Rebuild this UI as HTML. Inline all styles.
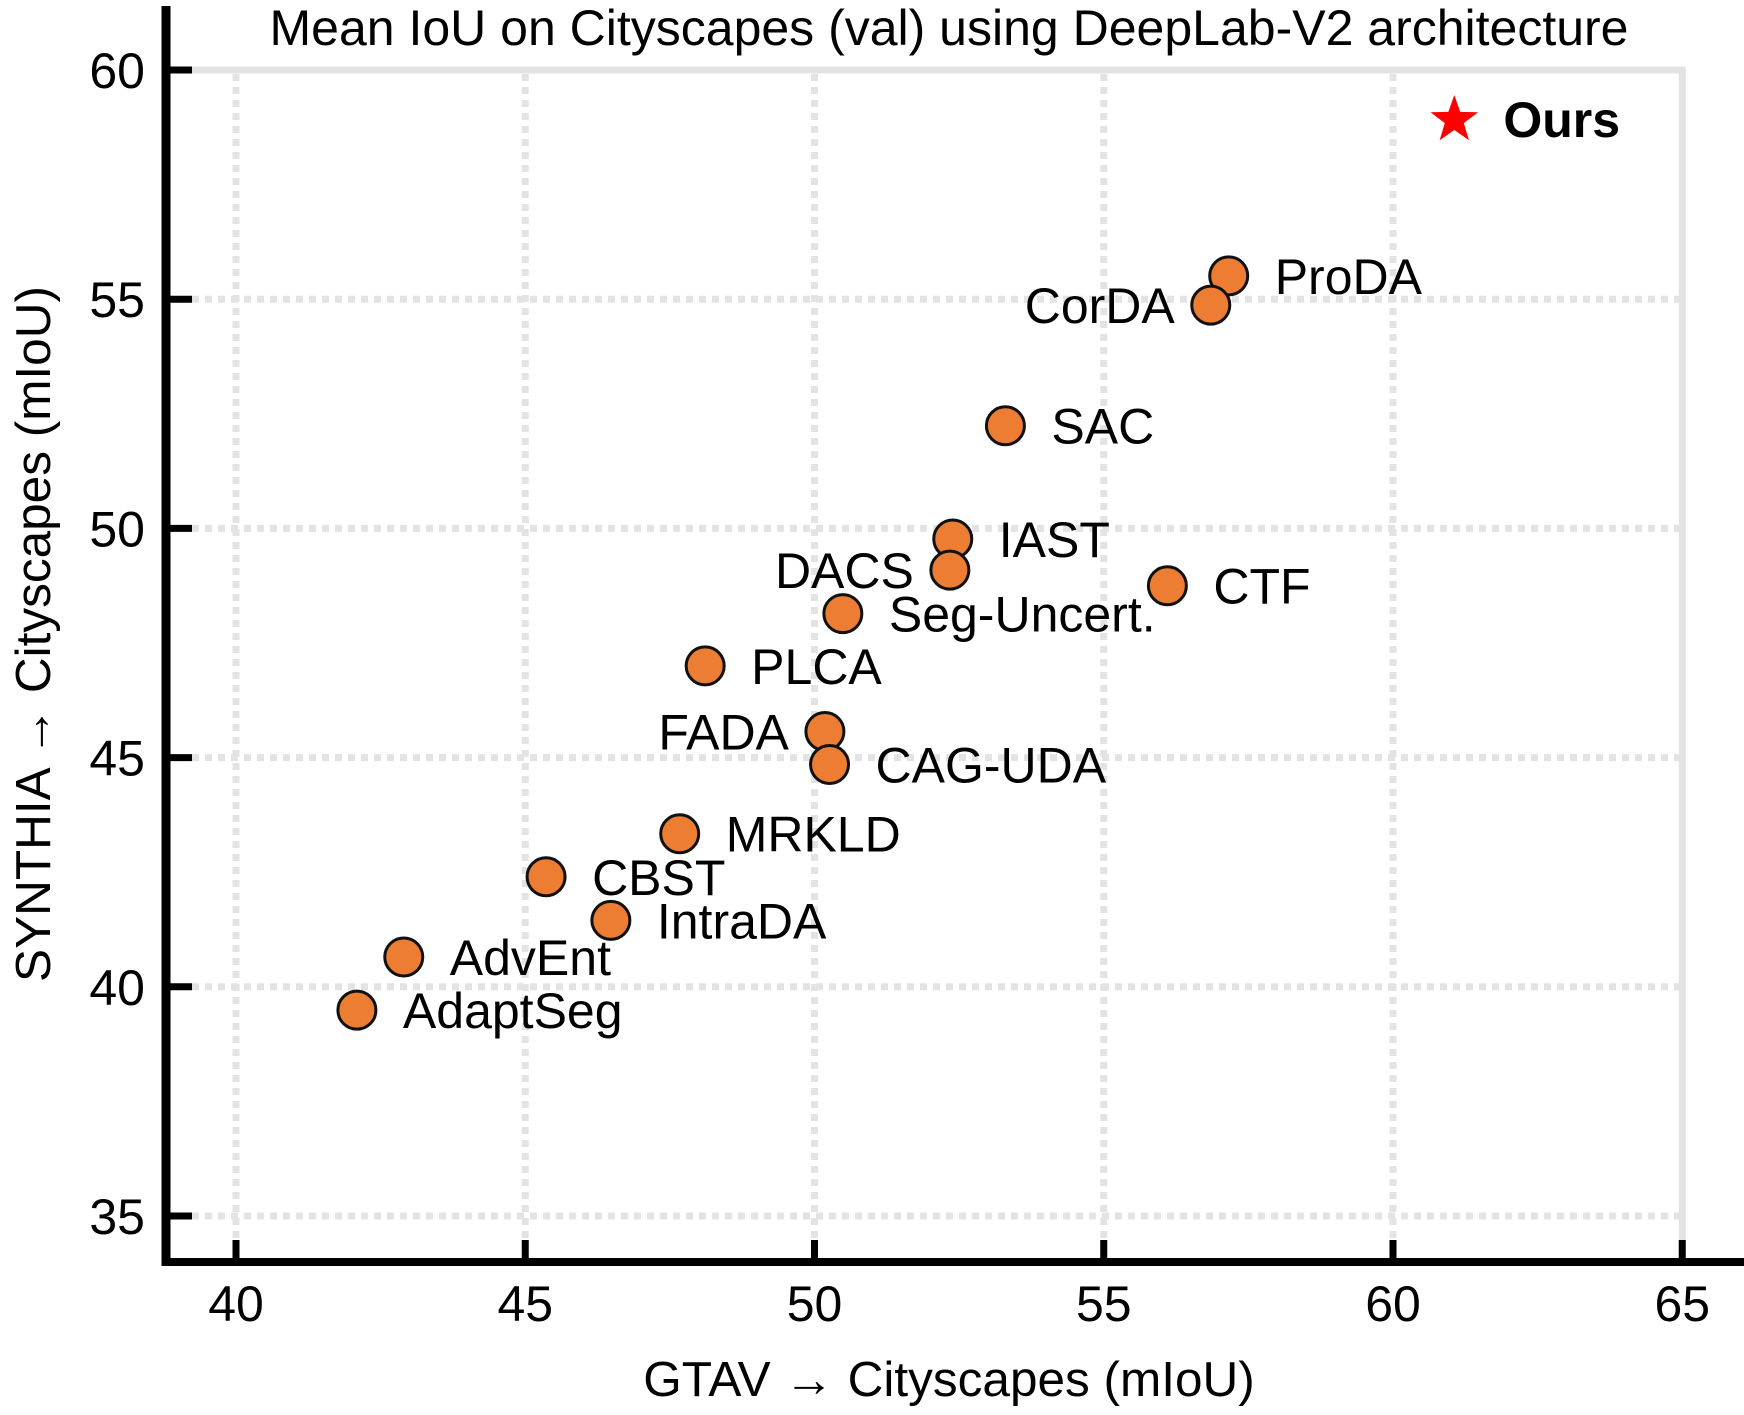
<!DOCTYPE html>
<html><head><meta charset="utf-8"><style>
html,body{margin:0;padding:0;background:#fff;}
svg{display:block;font-family:"Liberation Sans",Arial,sans-serif;}
</style></head><body>
<svg id="chart" width="1744" height="1415" viewBox="0 0 1744 1415" xmlns="http://www.w3.org/2000/svg"></svg>
<script>
const methods = ["ProDA","CorDA","SAC","IAST","DACS","CTF","Seg-Uncert.","PLCA","FADA","CAG-UDA","MRKLD","CBST","IntraDA","AdvEnt","AdaptSeg"];
const gtavScores = [57.16,56.85,53.30,52.39,52.34,56.10,50.49,48.11,50.18,50.26,47.67,45.36,46.48,42.90,42.09];
const synthiaScores = [55.51,54.87,52.24,49.77,49.09,48.75,48.14,47.00,45.57,44.85,43.34,42.40,41.45,40.65,39.49];
const labelSide = ["r","l","r","r","l","r","r","r","l","r","r","r","r","r","r"];
const oursGtav = 61.06;
const oursSynthia = 58.91;
const xTicks = [40,45,50,55,60,65];
const yTicks = [35,40,45,50,55,60];

const NS = "http://www.w3.org/2000/svg";
const svg = document.getElementById("chart");
function xs(v){ return 236 + (v-40)*57.85; }
function ys(v){ return 1216 - (v-35)*45.84; }
function mk(tag, attrs, parent){
  const e = document.createElementNS(NS, tag);
  for (const k in attrs) e.setAttribute(k, attrs[k]);
  (parent||svg).appendChild(e);
  return e;
}
const grid = mk("g",{});


xTicks.forEach(t=>{
  if (t===65) return;
  const l = mk("line",{x1:xs(t),x2:xs(t),y1:ys(60)+4,y2:1262,stroke:"#e3e3e3","stroke-width":7,"stroke-dasharray":"7 6"},grid);
  
  
});
yTicks.forEach(t=>{
  if (t===60) return;
  const l = mk("line",{x1:166,x2:xs(65),y1:ys(t),y2:ys(t),stroke:"#e3e3e3","stroke-width":7,"stroke-dasharray":"7 6"},grid);
  
  
});
const fr = mk("path",{d:`M166 ${ys(60)} H${xs(65)} V1262`,fill:"none",stroke:"#e3e3e3","stroke-width":7});


const ls = mk("line",{x1:166,x2:166,y1:6,y2:1266,stroke:"#000","stroke-width":9});


const bs = mk("line",{x1:162,x2:1744,y1:1262,y2:1262,stroke:"#000","stroke-width":8});


xTicks.forEach(t=>{
  const tk = mk("line",{x1:xs(t),x2:xs(t),y1:1240,y2:1262,stroke:"#000","stroke-width":7});
  
  
  const tl = mk("text",{x:xs(t),y:1321,"text-anchor":"middle","font-size":50});
  tl.textContent = t;
  
  
});
yTicks.forEach(t=>{
  const tk = mk("line",{x1:166,x2:192,y1:ys(t),y2:ys(t),stroke:"#000","stroke-width":7});
  
  
  const tl = mk("text",{x:145,y:ys(t)+18,"text-anchor":"end","font-size":50});
  tl.textContent = t;
  
  
});
methods.forEach((m,i)=>{
  const cx = xs(gtavScores[i]), cy = ys(synthiaScores[i]);
  const c = mk("circle",{cx:cx,cy:cy,r:19,fill:"#ec7d32",stroke:"#111","stroke-width":3});
  
  
  const right = labelSide[i]==="r";
  const t = mk("text",{x: right? cx+46 : cx-36, y: cy+18,"text-anchor": right?"start":"end","font-size":50});
  t.textContent = m;
  
  
});
(function(){
  const cx = xs(oursGtav), cy = ys(oursSynthia), R=25, r=10;
  let p=[];
  for(let k=0;k<10;k++){const a=-Math.PI/2+k*Math.PI/5;const rr=k%2?r:R;p.push((cx+rr*Math.cos(a)).toFixed(1)+","+(cy+rr*Math.sin(a)).toFixed(1));}
  const s = mk("polygon",{points:p.join(" "),fill:"#ff0000"});
  
  
  const t = mk("text",{x:cx+49,y:cy+17,"font-size":50,"font-weight":"bold"});
  t.textContent = "Ours";
  
  
})();
const title = mk("text",{x:949,y:45,"text-anchor":"middle","font-size":50});
title.textContent = "Mean IoU on Cityscapes (val) using DeepLab-V2 architecture";


const xt = mk("text",{x:949,y:1396,"text-anchor":"middle","font-size":49.5});
xt.textContent = "GTAV \u2192 Cityscapes (mIoU)";


const yt = mk("text",{x:0,y:0,"text-anchor":"middle","font-size":49.5,transform:"translate(50,634) rotate(-90)"});
yt.textContent = "SYNTHIA \u2192 Cityscapes (mIoU)";


</script>
</body></html>
